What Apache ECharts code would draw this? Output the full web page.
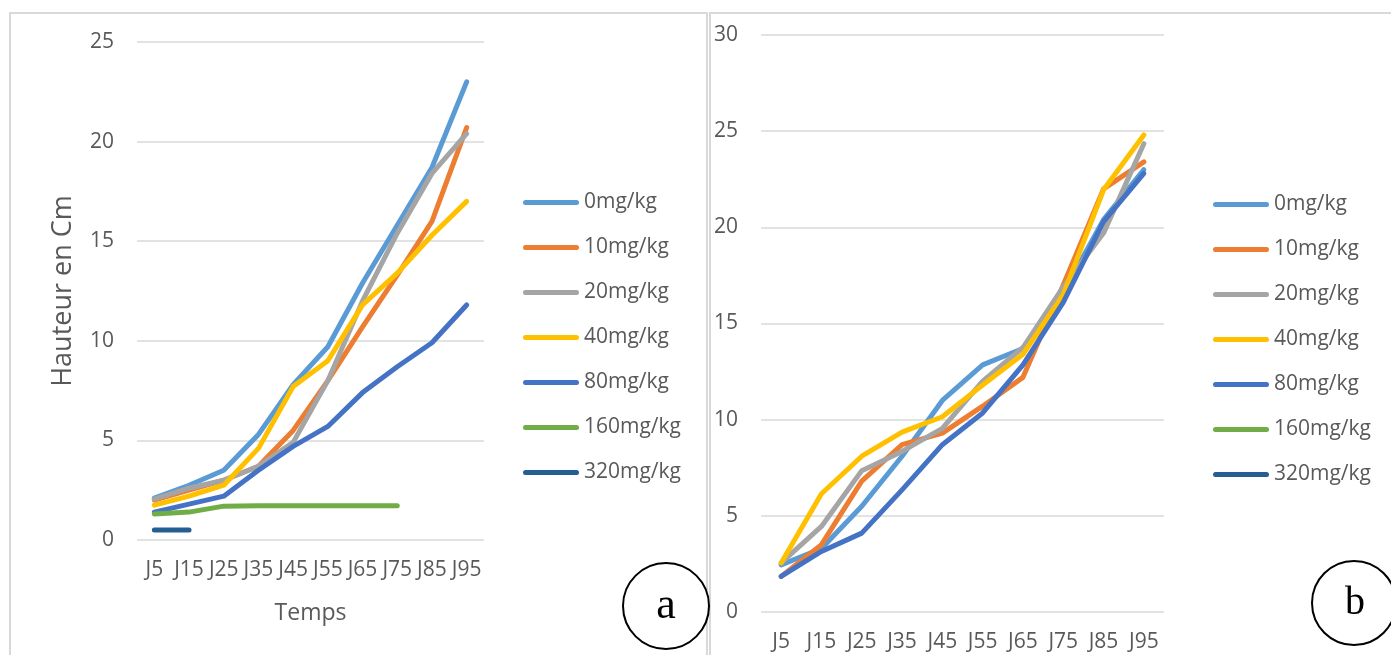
<!DOCTYPE html>
<html>
<head>
<meta charset="utf-8">
<script src="https://cdn.jsdelivr.net/npm/echarts@6/dist/echarts.min.js"></script>
<style>
  html, body { margin: 0; padding: 0; background: #fff; }
  #chart { width: 1391px; height: 655px; }
</style>
</head>
<body>
<div id="chart"></div>
<script>
  // categories (jours)
  var days = ['J5', 'J15', 'J25', 'J35', 'J45', 'J55', 'J65', 'J75', 'J85', 'J95'];
  var doses = ['0mg/kg', '10mg/kg', '20mg/kg', '40mg/kg', '80mg/kg', '160mg/kg', '320mg/kg'];
  var colors = ['#5B9BD5', '#ED7D31', '#A5A5A5', '#FFC000', '#4472C4', '#70AD47', '#255E91'];

  // chart a
  var a0   = [2.1, 2.75, 3.5, 5.3, 7.8, 9.7, 12.9, 15.8, 18.7, 23.0];
  var a10  = [2.0, 2.5, 3.0, 3.7, 5.5, 8.0, 10.7, 13.3, 16.0, 20.7];
  var a20  = [2.05, 2.6, 3.0, 3.7, 4.9, 8.0, 12.0, 15.4, 18.4, 20.4];
  var a40  = [1.75, 2.2, 2.75, 4.6, 7.7, 9.0, 11.8, 13.4, 15.3, 17.0];
  var a80  = [1.4, 1.8, 2.2, 3.5, 4.7, 5.7, 7.4, 8.7, 9.9, 11.8];
  var a160 = [1.3, 1.4, 1.7, 1.72, 1.72, 1.72, 1.72, 1.72, null, null];
  var a320 = [0.5, 0.5, null, null, null, null, null, null, null, null];

  // chart b
  var b0   = [2.45, 3.3, 5.5, 8.1, 11.0, 12.85, 13.7, 16.6, 20.4, 23.0];
  var b10  = [1.85, 3.5, 6.8, 8.7, 9.3, 10.7, 12.2, 17.0, 22.0, 23.4];
  var b20  = [2.55, 4.45, 7.35, 8.35, 9.55, 12.0, 13.75, 16.9, 19.7, 24.35];
  var b40  = [2.55, 6.15, 8.1, 9.35, 10.15, 11.8, 13.4, 16.5, 21.95, 24.8];
  var b80  = [1.85, 3.15, 4.1, 6.35, 8.7, 10.35, 12.85, 16.1, 20.3, 22.8];
  var b160 = [];
  var b320 = [];

  var yTicksA = { min: 0, max: 25, interval: 5 };
  var yTicksB = { min: 0, max: 30, interval: 5 };

  var dataA = [a0, a10, a20, a40, a80, a160, a320];
  var dataB = [b0, b10, b20, b40, b80, b160, b320];

  var font = '"Open Sans", sans-serif';
  var grey = '#595959';
  // thick rounded line used as legend key
  var keyIcon = 'path://M2.5,0 L53.5,0 A2.5,2.5 0 0 1 53.5,5 L2.5,5 A2.5,2.5 0 0 1 2.5,0 Z';

  var chart = echarts.init(document.getElementById('chart'));

  function makeSeries(list, idx) {
    return list.map(function (d, i) {
      return {
        name: doses[i],
        type: 'line',
        xAxisIndex: idx,
        yAxisIndex: idx,
        data: d,
        symbol: 'none',
        connectNulls: false,
        lineStyle: { width: 5, color: colors[i], cap: 'round', join: 'round' },
        itemStyle: { color: colors[i] },
        emphasis: { disabled: true }
      };
    });
  }

  function xAxis(idx, withName) {
    return {
      type: 'category',
      gridIndex: idx,
      data: days,
      boundaryGap: true,
      axisLine: { show: false },
      axisTick: { show: false },
      axisLabel: { interval: 0, color: grey, fontSize: 21, fontFamily: font, margin: 20 },
      name: withName ? 'Temps' : '',
      nameLocation: 'middle',
      nameGap: 62,
      nameTextStyle: { color: grey, fontSize: 23, fontFamily: font }
    };
  }

  function yAxis(idx, ticks, name) {
    return {
      type: 'value',
      gridIndex: idx,
      min: ticks.min,
      max: ticks.max,
      interval: ticks.interval,
      axisLine: { show: false },
      axisTick: { show: false },
      splitLine: { lineStyle: { color: '#d9d9d9', width: 1.5 } },
      axisLabel: { color: grey, fontSize: 21, fontFamily: font, margin: 23 },
      name: name,
      nameLocation: 'middle',
      nameRotate: 90,
      nameGap: 60,
      nameTextStyle: { color: grey, fontSize: 27, fontFamily: font }
    };
  }

  function legend(left, top) {
    return {
      orient: 'vertical',
      left: left,
      top: top,
      padding: 0,
      data: doses.map(function (n) { return { name: n, icon: keyIcon }; }),
      itemWidth: 56,
      itemHeight: 5,
      itemGap: 24,
      selectedMode: false,
      textStyle: { color: grey, fontSize: 21, fontFamily: font }
    };
  }

  var option = {
    backgroundColor: '#fff',
    animation: false,
    color: colors,
    grid: [
      { left: 137, top: 42, width: 347, height: 498 },
      { left: 761, top: 35, width: 403, height: 577 }
    ],
    xAxis: [xAxis(0, true), xAxis(1, false)],
    yAxis: [yAxis(0, yTicksA, 'Hauteur en Cm'), yAxis(1, yTicksB, '')],
    legend: [legend(523, 192), legend(1213, 194)],
    series: makeSeries(dataA, 0).concat(makeSeries(dataB, 1)),
    graphic: [
      { type: 'rect', shape: { x: 10, y: 13, width: 697, height: 700 }, style: { fill: 'none', stroke: '#d9d9d9', lineWidth: 2 }, z: -1 },
      { type: 'rect', shape: { x: 710, y: 13, width: 760, height: 700 }, style: { fill: 'none', stroke: '#d9d9d9', lineWidth: 2 }, z: -1 },
      { type: 'circle', shape: { cx: 666, cy: 606, r: 43 }, style: { fill: '#fff', stroke: '#000', lineWidth: 2 } },
      { type: 'text', x: 666, y: 606, style: { text: 'a', fill: '#000', font: '44px "Liberation Serif", serif', align: 'center', verticalAlign: 'middle' } },
      { type: 'circle', shape: { cx: 1354, cy: 603, r: 42 }, style: { fill: '#fff', stroke: '#000', lineWidth: 2 } },
      { type: 'text', x: 1355, y: 603, style: { text: 'b', fill: '#000', font: '40px "Liberation Serif", serif', align: 'center', verticalAlign: 'middle' } }
    ]
  };

  chart.setOption(option, true);
</script>
</body>
</html>
